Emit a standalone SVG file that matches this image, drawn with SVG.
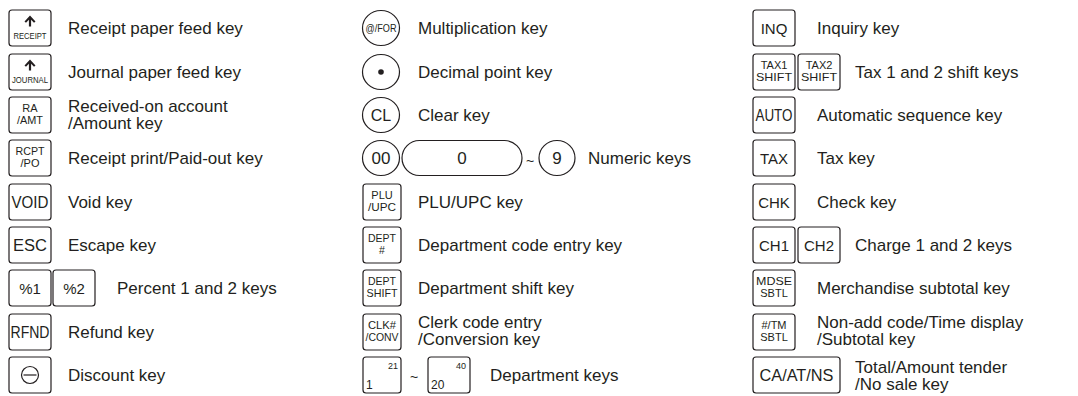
<svg xmlns="http://www.w3.org/2000/svg" width="1078" height="396" viewBox="0 0 1078 396">
<style>
.k{fill:#fff;stroke:#231f20;stroke-width:1.2}
.l{font-family:"Liberation Sans",Arial,sans-serif;font-size:17px;fill:#231f20}
.t{font-family:"Liberation Sans",Arial,sans-serif;fill:#231f20;text-anchor:middle}
.ts{font-family:"Liberation Sans",Arial,sans-serif;fill:#231f20}
</style>
<defs>
<path id="arr" d="M0 -5.5 L5.5 0.5 L4 1.8 L1.1 -1.2 L1.1 5.5 L-1.1 5.5 L-1.1 -1.2 L-4 1.8 L-5.5 0.5 Z" fill="#231f20"/>
</defs>
<rect width="1078" height="396" fill="#fff"/>
<g id="connectors"/>

<!-- Left column -->
<g id="receipt-feed">
<rect class="k" x="9" y="10" width="42" height="36" rx="3"/>
<use href="#arr" x="30" y="21"/>
<text class="t" x="30" y="38.5" font-size="9" textLength="33" lengthAdjust="spacingAndGlyphs">RECEIPT</text>
<text class="l" x="68" y="34">Receipt paper feed key</text>
</g>
<g id="journal-feed">
<rect class="k" x="9" y="54" width="42" height="36" rx="3"/>
<use href="#arr" x="30" y="65"/>
<text class="t" x="30" y="82.5" font-size="9" textLength="36" lengthAdjust="spacingAndGlyphs">JOURNAL</text>
<text class="l" x="68" y="78">Journal paper feed key</text>
</g>
<g id="ra-amt">
<rect class="k" x="9" y="97" width="42" height="36" rx="3"/>
<text class="t" x="30" y="112" font-size="11">RA</text>
<text class="t" x="30" y="124" font-size="11" textLength="26" lengthAdjust="spacingAndGlyphs">/AMT</text>
<text class="l" x="68" y="112">Received-on account</text>
<text class="l" x="68" y="129">/Amount key</text>
</g>
<g id="rcpt-po">
<rect class="k" x="9" y="140" width="42" height="36" rx="3"/>
<text class="t" x="30" y="155" font-size="11" textLength="29" lengthAdjust="spacingAndGlyphs">RCPT</text>
<text class="t" x="30" y="167" font-size="11">/PO</text>
<text class="l" x="68" y="164">Receipt print/Paid-out key</text>
</g>
<g id="void">
<rect class="k" x="9" y="184" width="42" height="36" rx="3"/>
<text class="t" x="30" y="208" font-size="16" textLength="37" lengthAdjust="spacingAndGlyphs">VOID</text>
<text class="l" x="68" y="208">Void key</text>
</g>
<g id="esc">
<rect class="k" x="9" y="227" width="42" height="36" rx="3"/>
<text class="t" x="30" y="251" font-size="16" textLength="34" lengthAdjust="spacingAndGlyphs">ESC</text>
<text class="l" x="68" y="251">Escape key</text>
</g>
<g id="percent">
<rect class="k" x="9" y="270" width="42" height="36" rx="3"/>
<rect class="k" x="53" y="270" width="42" height="36" rx="3"/>
<text class="t" x="30" y="294" font-size="15">%1</text>
<text class="t" x="74" y="294" font-size="15">%2</text>
<text class="l" x="117" y="294">Percent 1 and 2 keys</text>
</g>
<g id="rfnd">
<rect class="k" x="9" y="314" width="42" height="36" rx="3"/>
<text class="t" x="30" y="338" font-size="16" textLength="39" lengthAdjust="spacingAndGlyphs">RFND</text>
<text class="l" x="68" y="338">Refund key</text>
</g>
<g id="discount">
<rect class="k" x="9" y="357" width="42" height="36" rx="3"/>
<circle cx="30" cy="375" r="8.5" fill="none" stroke="#231f20" stroke-width="1.2"/>
<line x1="23.5" y1="375" x2="36.5" y2="375" stroke="#231f20" stroke-width="1.2"/>
<text class="l" x="68" y="381">Discount key</text>
</g>

<!-- Middle column -->
<g id="multiplication">
<ellipse class="k" cx="381" cy="28" rx="18.5" ry="17.5"/>
<text class="t" x="381" y="32" font-size="11" textLength="31" lengthAdjust="spacingAndGlyphs">@/FOR</text>
<text class="l" x="418" y="34">Multiplication key</text>
</g>
<g id="decimal">
<ellipse class="k" cx="381" cy="72" rx="18.5" ry="17.5"/>
<circle cx="381" cy="72" r="2.8" fill="#231f20"/>
<text class="l" x="418" y="78">Decimal point key</text>
</g>
<g id="clear">
<ellipse class="k" cx="381" cy="115" rx="18.5" ry="17.5"/>
<text class="t" x="381" y="121" font-size="16">CL</text>
<text class="l" x="418" y="121">Clear key</text>
</g>
<g id="numeric">
<ellipse class="k" cx="381" cy="158" rx="18.5" ry="17.5"/>
<text class="t" x="381" y="164" font-size="17">00</text>
<rect class="k" x="402" y="140.5" width="120" height="35" rx="17.5"/>
<text class="t" x="462" y="164" font-size="17">0</text>
<text class="t" x="530" y="166" font-size="14">~</text>
<ellipse class="k" cx="557" cy="158" rx="18" ry="17.5"/>
<text class="t" x="557" y="164" font-size="17">9</text>
<text class="l" x="588" y="164">Numeric keys</text>
</g>
<g id="plu-upc">
<rect class="k" x="363" y="184" width="38" height="36" rx="3"/>
<text class="t" x="382" y="199" font-size="11">PLU</text>
<text class="t" x="382" y="211" font-size="11" textLength="28" lengthAdjust="spacingAndGlyphs">/UPC</text>
<text class="l" x="418" y="208">PLU/UPC key</text>
</g>
<g id="dept-code">
<rect class="k" x="363" y="227" width="38" height="36" rx="3"/>
<text class="t" x="382" y="242" font-size="10.5" textLength="28" lengthAdjust="spacingAndGlyphs">DEPT</text>
<text class="t" x="382" y="254" font-size="10.5">#</text>
<text class="l" x="418" y="251">Department code entry key</text>
</g>
<g id="dept-shift">
<rect class="k" x="363" y="270" width="38" height="36" rx="3"/>
<text class="t" x="382" y="285" font-size="10.5" textLength="28" lengthAdjust="spacingAndGlyphs">DEPT</text>
<text class="t" x="382" y="297" font-size="10.5" textLength="31" lengthAdjust="spacingAndGlyphs">SHIFT</text>
<text class="l" x="418" y="294">Department shift key</text>
</g>
<g id="clk-conv">
<rect class="k" x="363" y="314" width="38" height="36" rx="3"/>
<text class="t" x="382" y="329" font-size="10.5" textLength="28" lengthAdjust="spacingAndGlyphs">CLK#</text>
<text class="t" x="382" y="341" font-size="10.5" textLength="33" lengthAdjust="spacingAndGlyphs">/CONV</text>
<text class="l" x="418" y="328">Clerk code entry</text>
<text class="l" x="418" y="345">/Conversion key</text>
</g>
<g id="dept-keys">
<rect class="k" x="363" y="357" width="38" height="36" rx="3"/>
<text class="ts" x="388" y="369" font-size="9">21</text>
<text class="ts" x="366" y="389" font-size="12">1</text>
<text class="t" x="414" y="382" font-size="14">~</text>
<rect class="k" x="428" y="357" width="42" height="36" rx="3"/>
<text class="ts" x="456" y="369" font-size="9">40</text>
<text class="ts" x="431" y="389" font-size="12">20</text>
<text class="l" x="490" y="381">Department keys</text>
</g>

<!-- Right column -->
<g id="inq">
<rect class="k" x="753" y="10" width="42" height="36" rx="3"/>
<text class="t" x="774" y="34" font-size="15">INQ</text>
<text class="l" x="817" y="34">Inquiry key</text>
</g>
<g id="tax-shift">
<rect class="k" x="753" y="54" width="42" height="36" rx="3"/>
<rect class="k" x="798" y="54" width="42" height="36" rx="3"/>
<text class="t" x="774" y="69" font-size="11">TAX1</text>
<text class="t" x="774" y="81" font-size="11" textLength="36" lengthAdjust="spacingAndGlyphs">SHIFT</text>
<text class="t" x="819" y="69" font-size="11">TAX2</text>
<text class="t" x="819" y="81" font-size="11" textLength="36" lengthAdjust="spacingAndGlyphs">SHIFT</text>
<text class="l" x="855" y="78">Tax 1 and 2 shift keys</text>
</g>
<g id="auto">
<rect class="k" x="753" y="97" width="42" height="36" rx="3"/>
<text class="t" x="774" y="121" font-size="16" textLength="37" lengthAdjust="spacingAndGlyphs">AUTO</text>
<text class="l" x="817" y="121">Automatic sequence key</text>
</g>
<g id="tax">
<rect class="k" x="753" y="140" width="42" height="36" rx="3"/>
<text class="t" x="774" y="164" font-size="15">TAX</text>
<text class="l" x="817" y="164">Tax key</text>
</g>
<g id="chk">
<rect class="k" x="753" y="184" width="42" height="36" rx="3"/>
<text class="t" x="774" y="208" font-size="15">CHK</text>
<text class="l" x="817" y="208">Check key</text>
</g>
<g id="charge">
<rect class="k" x="753" y="227" width="42" height="36" rx="3"/>
<rect class="k" x="798" y="227" width="42" height="36" rx="3"/>
<text class="t" x="774" y="251" font-size="15">CH1</text>
<text class="t" x="819" y="251" font-size="15">CH2</text>
<text class="l" x="855" y="251">Charge 1 and 2 keys</text>
</g>
<g id="mdse-sbtl">
<rect class="k" x="753" y="270" width="42" height="36" rx="3"/>
<text class="t" x="774" y="285" font-size="11" textLength="36" lengthAdjust="spacingAndGlyphs">MDSE</text>
<text class="t" x="774" y="297" font-size="11">SBTL</text>
<text class="l" x="817" y="294">Merchandise subtotal key</text>
</g>
<g id="tm-sbtl">
<rect class="k" x="753" y="314" width="42" height="36" rx="3"/>
<text class="t" x="774" y="329" font-size="11">#/TM</text>
<text class="t" x="774" y="341" font-size="11">SBTL</text>
<text class="l" x="817" y="328">Non-add code/Time display</text>
<text class="l" x="817" y="345">/Subtotal key</text>
</g>
<g id="ca-at-ns">
<rect class="k" x="753" y="357" width="87" height="36" rx="3"/>
<text class="t" x="796.5" y="381" font-size="17" textLength="74" lengthAdjust="spacingAndGlyphs">CA/AT/NS</text>
<text class="l" x="855" y="373">Total/Amount tender</text>
<text class="l" x="855" y="390">/No sale key</text>
</g>
</svg>
